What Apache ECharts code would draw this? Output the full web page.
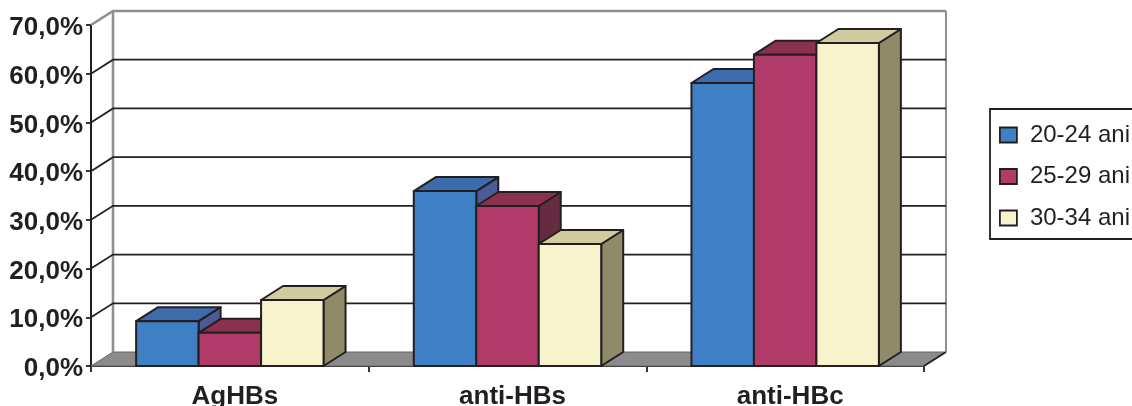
<!DOCTYPE html>
<html><head><meta charset="utf-8">
<style>html,body{margin:0;padding:0;background:#fff;overflow:hidden}#c{width:1132px;height:406px}</style>
<script src="https://cdn.jsdelivr.net/npm/echarts@6/dist/echarts.min.js"></script>
</head><body><div id="c"></div>
<script>
const categories = ['AgHBs', 'anti-HBs', 'anti-HBc'];
const ageGroups = ['20-24 ani', '25-29 ani', '30-34 ani'];
const values2024 = [9.2, 35.9, 58.1];
const values2529 = [6.8, 32.85, 63.9];
const values3034 = [13.55, 25.05, 66.3];
const ticks = [0, 10, 20, 30, 40, 50, 60, 70];

const DX = 22, DY = -14;
const INK = '#231f20';
const palette = [
  {front:'#3f80c4', top:'#3c6cab', side:'#4a5b96'},
  {front:'#b03b68', top:'#8a3150', side:'#652b41'},
  {front:'#f8f2cd', top:'#d3cba0', side:'#8f8a68'}
];
const FONT = '"Liberation Sans", Arial, sans-serif';
const chart = echarts.init(document.getElementById('c'), null, {renderer:'canvas'});

function wallItem(params, api) {
  const v = api.value(0);
  const p = api.coord([0, v]);
  const size = api.size([1, 0])[0];
  const x0 = p[0] - size / 2, y = p[1];
  const x1 = x0 + size * categories.length;
  const top = v === 70;
  const color = top ? '#8f8f8f' : INK;
  const width = top ? 2.6 : 1.8;
  const kids = [];
  if (v === 0) {
    kids.push({type:'polygon', shape:{points:[[x0,y],[x0+DX,y+DY],[x1+DX,y+DY],[x1,y]]},
      style:{fill:'#8a8b8a', stroke:'#666', lineWidth:1}});
    kids.push({type:'line', shape:{x1:x1,y1:y,x2:x1+DX,y2:y+DY}, style:{stroke:INK,lineWidth:1.8}});
    kids.push({type:'line', shape:{x1:x0+DX,y1:y+DY,x2:x0+DX,y2:api.coord([0,70])[1]+DY}, style:{stroke:'#8f8f8f',lineWidth:2.6}});
    kids.push({type:'line', shape:{x1:x1+DX,y1:y+DY,x2:x1+DX,y2:api.coord([0,70])[1]+DY}, style:{stroke:'#8f8f8f',lineWidth:2}});
  } else {
    kids.push({type:'polyline', shape:{points:[[x0,y],[x0+DX,y+DY],[x1+DX,y+DY]]}, style:{stroke:color,lineWidth:width,fill:null}});
  }
  return {type:'group', children:kids};
}

function barItem(seriesIdx) {
  return function (params, api) {
    const cat = api.value(0), val = api.value(1);
    const band = api.size([1, 0])[0];
    const w = band * 0.225;
    const c = api.coord([cat, 0]);
    const t = api.coord([cat, val]);
    const x0 = c[0] + (seriesIdx - 1.5) * w, x1 = x0 + w, yB = c[1], yT = t[1];
    const col = palette[seriesIdx];
    const s = {stroke:INK, lineWidth:2, lineJoin:'round'};
    return {type:'group', children:[
      {type:'polygon', shape:{points:[[x1,yB],[x1+DX,yB+DY],[x1+DX,yT+DY],[x1,yT]]}, style:Object.assign({fill:col.side},s)},
      {type:'polygon', shape:{points:[[x0,yT],[x0+DX,yT+DY],[x1+DX,yT+DY],[x1,yT]]}, style:Object.assign({fill:col.top},s)},
      {type:'rect', shape:{x:x0,y:yT,width:w,height:yB-yT}, style:Object.assign({fill:col.front},s)}
    ]};
  };
}

const seriesValues = [values2024, values2529, values3034];
chart.setOption({
  animation:false,
  backgroundColor:'#fff',
  grid:{left:91, right:208, top:25, bottom:40, outerBoundsMode:'none', containLabel:false},
  legend:{
    orient:'vertical', left:990, top:109,
    data: ageGroups.map((n,i)=>({name:n, icon:'rect',
      itemStyle:{color:palette[i].front, borderColor:INK, borderWidth:1.8}})),
    itemWidth:17, itemHeight:15, itemGap:17.5, padding:[14,12,9,9],
    borderColor:INK, borderWidth:1.8, backgroundColor:'#fff',
    textStyle:{fontFamily:FONT, fontSize:24, color:INK, padding:[0,0,0,8]},
    selectedMode:false
  },
  xAxis:{type:'category', data:categories, boundaryGap:true,
    axisLine:{show:true,lineStyle:{color:INK,width:2}},
    axisTick:{show:true,alignWithLabel:false,length:6,lineStyle:{color:INK,width:1.8}},
    axisLabel:{fontFamily:FONT,fontWeight:'bold',fontSize:26,color:INK,margin:18,interval:0,padding:[0,0,0,10]}
  },
  yAxis:{type:'value', min:0, max:70, interval:10,
    axisLine:{show:true,lineStyle:{color:INK,width:2}},
    axisTick:{show:true,length:5,lineStyle:{color:INK,width:1.8}},
    splitLine:{show:false},
    axisLabel:{fontFamily:FONT,fontWeight:'bold',fontSize:26,color:INK,margin:8,
      rich:{t:{fontFamily:FONT,fontWeight:'bold',fontSize:26,color:INK,padding:[6,0,0,0]}},
      formatter:v=>'{t|'+v.toFixed(1).replace('.',',')+'%}'}
  },
  series:[
    {type:'custom', name:'wall', silent:true, z:1, coordinateSystem:'cartesian2d',
     data:ticks.map(v=>[v]), encode:{y:0}, renderItem:wallItem},
    ...ageGroups.map((n,i)=>({
      type:'custom', name:n, z:2+i, coordinateSystem:'cartesian2d',
      itemStyle:{color:palette[i].front},
      data:seriesValues[i].map((v,k)=>[k,v]),
      encode:{x:0,y:1}, renderItem:barItem(i)
    }))
  ]
});
</script></body></html>
